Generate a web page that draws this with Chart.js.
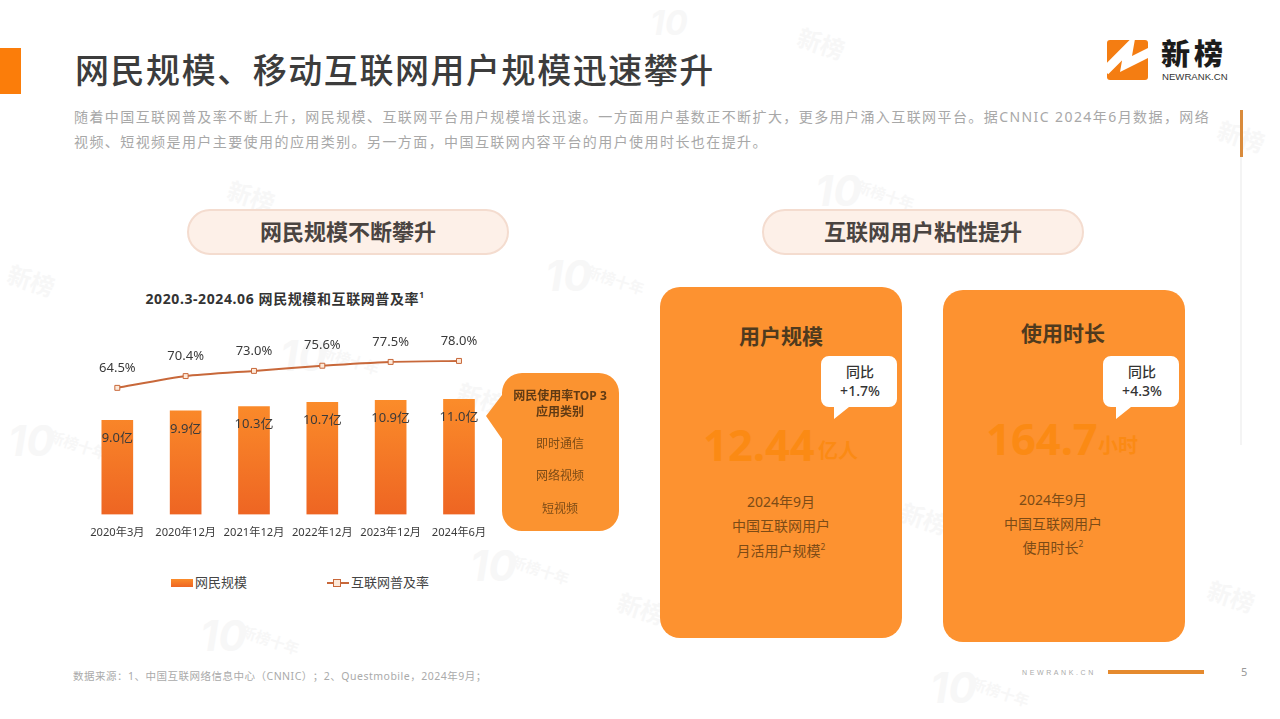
<!DOCTYPE html>
<html lang="zh-CN">
<head>
<meta charset="utf-8">
<title>网民规模、移动互联网用户规模迅速攀升</title>
<script src="https://cdn.jsdelivr.net/npm/chart.js@4"></script>
<style>
  html, body { margin: 0; padding: 0; background: #fff; }
  body { width: 1280px; height: 719px; position: relative; overflow: hidden; text-spacing-trim: space-all;
         font-family: "Noto Sans", "Noto Sans CJK SC", sans-serif; color: #333; }
  .abs { position: absolute; white-space: nowrap; line-height: 1; }
  .mid { transform: translate(-50%, -50%); text-align: center; }
  .vmid { transform: translateY(-50%); }
  .pill { position: absolute; top: 209px; width: 318px; height: 42px; border-radius: 23px;
          background: #fdf0e8; border: 2px solid #f4dccf; }
  .card { position: absolute; width: 242px; background: #fd9230; border-radius: 20px; }
  .wm { position: absolute; color: #f7f7f7; white-space: nowrap; line-height: 1; }
  .wm.ten { font: italic 700 42px "Inter", sans-serif; }
  .wm.sm { font-size: 15px; font-weight: 700; transform: rotate(18deg); transform-origin: left top; }
  .big { color: #fb8a14; font-weight: 700; }
  .desc { color: #7c4b16; font-size: 14px; }
  .bubble { color: #333; font-size: 14px; font-weight: 500; }
  sup { font-size: 0.6em; line-height: 0; }
  #chartBox { position: absolute; left: 60px; top: 330px; width: 450px; height: 215px; }
</style>
</head>
<body>
<div id="marks"></div>

<!-- header -->
<div class="abs" style="left:0;top:48px;width:21px;height:46px;background:#fb7d0a"></div>
<div class="abs vmid" style="left:75px;top:70px;font-size:34px;font-weight:500;letter-spacing:1.55px;color:#3c3c3c">网民规模、移动互联网用户规模迅速攀升</div>
<div class="abs vmid" style="left:74px;top:117px;font-size:14px;letter-spacing:1.42px;color:#a8a8a8">随着中国互联网普及率不断上升，网民规模、互联网平台用户规模增长迅速。一方面用户基数正不断扩大，更多用户涌入互联网平台。据CNNIC 2024年6月数据，网络</div>
<div class="abs vmid" style="left:74px;top:142px;font-size:14px;letter-spacing:1.42px;color:#a8a8a8">视频、短视频是用户主要使用的应用类别。另一方面，中国互联网内容平台的用户使用时长也在提升。</div>

<!-- logo -->
<svg class="abs" style="left:1107px;top:40px" width="41" height="40" viewBox="0 0 41 40">
  <rect width="41" height="40" rx="3" fill="#f47d12"/>
  <polyline points="-2,31 22,7 19,24 43,12" fill="none" stroke="#fff" stroke-width="9" stroke-linejoin="miter"/>
</svg>
<div class="abs" style="left:1161px;top:39px;font-size:29px;font-weight:900;letter-spacing:4px;color:#1c1c1c">新榜</div>
<div class="abs" style="left:1162px;top:71px;font:9.6px 'Liberation Sans',sans-serif;color:#333">NEWRANK.CN</div>

<!-- right rule -->
<div class="abs" style="left:1240px;top:157px;width:2px;height:288px;background:#f4f4f4"></div>
<div class="abs" style="left:1239.5px;top:110px;width:3px;height:47px;background:#d98b3c"></div>

<!-- section pills -->
<div class="pill" style="left:187px"></div>
<div class="abs mid" style="left:348px;top:231px;font-size:22px;font-weight:700;color:#4a4441">网民规模不断攀升</div>
<div class="pill" style="left:762px"></div>
<div class="abs mid" style="left:923px;top:231px;font-size:22px;font-weight:700;color:#4a4441">互联网用户粘性提升</div>

<!-- left chart -->
<div class="abs mid" style="left:285px;top:299px;font-size:14px;font-weight:700;letter-spacing:0.6px;color:#333">2020.3-2024.06 网民规模和互联网普及率<sup>1</sup></div>
<div id="chartBox"><canvas id="mainChart"></canvas></div>

<!-- legend -->
<div class="abs" id="legBar" style="left:171px;top:579px;width:22px;height:8px"></div>
<div class="abs vmid" style="left:195px;top:582px;font-size:13px;color:#444">网民规模</div>
<div class="abs" style="left:327px;top:582px;width:22px;height:2px;background:#c8683a"></div>
<div class="abs" style="left:333px;top:579px;width:6px;height:6px;background:#fde9d9;border:1px solid #c8683a"></div>
<div class="abs vmid" style="left:351px;top:582px;font-size:13px;color:#444">互联网普及率</div>

<!-- callout -->
<svg class="abs" style="left:480px;top:365px" width="145" height="172">
  <path d="M42 8 H119 A20 20 0 0 1 139 28 V146 A20 20 0 0 1 119 166 H42 A20 20 0 0 1 22 146 V74 L6 51 L22 30 V28 A20 20 0 0 1 42 8 Z" fill="#fb9330"/>
</svg>
<div class="abs mid" style="left:560px;top:396px;font-size:12px;font-weight:700;color:#5f3a14">网民使用率TOP 3</div>
<div class="abs mid" style="left:560px;top:412px;font-size:12px;font-weight:700;color:#5f3a14">应用类别</div>
<div class="abs mid" style="left:560px;top:444px;font-size:12px;color:#7c4b16">即时通信</div>
<div class="abs mid" style="left:560px;top:476px;font-size:12px;color:#7c4b16">网络视频</div>
<div class="abs mid" style="left:560px;top:509px;font-size:12px;color:#7c4b16">短视频</div>

<!-- left card -->
<div class="card" style="left:660px;top:287px;height:351px"></div>
<div class="abs mid" style="left:781px;top:336px;font-size:21px;font-weight:700;color:#4f3a1e">用户规模</div>
<svg class="abs" style="left:821px;top:356px" width="76" height="64">
  <path d="M8 0 H68 A8 8 0 0 1 76 8 V43 A8 8 0 0 1 68 51 H28 L13 63 V51 H8 A8 8 0 0 1 0 43 V8 A8 8 0 0 1 8 0 Z" fill="#fff"/>
</svg>
<div class="abs mid bubble" style="left:860px;top:372px">同比</div>
<div class="abs mid bubble" style="left:860px;top:391px">+1.7%</div>
<div class="abs vmid big" style="left:703px;top:445px;font-size:43.5px">12.44</div>
<div class="abs vmid big" style="left:818px;top:451px;font-size:20px">亿人</div>
<div class="abs mid desc" style="left:781px;top:502px">2024年9月</div>
<div class="abs mid desc" style="left:781px;top:526px">中国互联网用户</div>
<div class="abs mid desc" style="left:781px;top:551px">月活用户规模<sup>2</sup></div>

<!-- right card -->
<div class="card" style="left:943px;top:290px;height:352px"></div>
<div class="abs mid" style="left:1063px;top:333px;font-size:21px;font-weight:700;color:#4f3a1e">使用时长</div>
<svg class="abs" style="left:1103px;top:356px" width="76" height="64">
  <path d="M8 0 H68 A8 8 0 0 1 76 8 V43 A8 8 0 0 1 68 51 H28 L13 63 V51 H8 A8 8 0 0 1 0 43 V8 A8 8 0 0 1 8 0 Z" fill="#fff"/>
</svg>
<div class="abs mid bubble" style="left:1142px;top:372px">同比</div>
<div class="abs mid bubble" style="left:1142px;top:391px">+4.3%</div>
<div class="abs vmid big" style="left:986px;top:439px;font-size:43.5px">164.7</div>
<div class="abs vmid big" style="left:1098px;top:446px;font-size:20px">小时</div>
<div class="abs mid desc" style="left:1053px;top:500px">2024年9月</div>
<div class="abs mid desc" style="left:1053px;top:524px">中国互联网用户</div>
<div class="abs mid desc" style="left:1053px;top:548px">使用时长<sup>2</sup></div>

<!-- footer -->
<div class="abs vmid" style="left:73px;top:676px;font-size:10.5px;letter-spacing:0.5px;color:#aaa">数据来源：1、中国互联网络信息中心（CNNIC）；2、Questmobile，2024年9月；</div>
<div class="abs vmid" style="left:1022px;top:672px;font:7px 'Liberation Sans',sans-serif;letter-spacing:2.6px;color:#aaa">NEWRANK.CN</div>
<div class="abs" style="left:1108px;top:670px;width:96px;height:4px;background:#e58a2e"></div>
<div class="abs vmid" style="left:1241px;top:671px;font-size:11px;color:#999">5</div>

<script>
// ---- chart data ----
const periods = ["2020年3月", "2020年12月", "2021年12月", "2022年12月", "2023年12月", "2024年6月"];
const netizens = [9.0, 9.9, 10.3, 10.7, 10.9, 11.0];
const penetration = [64.5, 70.4, 73.0, 75.6, 77.5, 78.0];

// faint background watermarks
const tenMarks = [[815, 165], [545, 250], [200, 610], [470, 540], [8, 415], [930, 662], [280, 330]];
const newMarks = [[232, 178], [802, 25], [622, 590], [1212, 578], [1222, 118], [462, 380], [12, 262], [905, 500]];
const marks = document.getElementById("marks");
marks.insertAdjacentHTML("beforeend", '<span class="wm ten" style="left:650px;top:2px;font-size:34px">10</span>');
tenMarks.forEach(([x, y]) => {
  marks.insertAdjacentHTML("beforeend",
    `<span class="wm ten" style="left:${x}px;top:${y}px">10</span>` +
    `<span class="wm sm" style="left:${x + 44}px;top:${y + 14}px">新榜十年</span>`);
});
newMarks.forEach(([x, y]) => {
  marks.insertAdjacentHTML("beforeend",
    `<span class="wm sm" style="left:${x}px;top:${y}px;font-size:24px">新榜</span>`);
});

document.getElementById("legBar").style.background = "linear-gradient(#fb8c2a, #ee6523)";

// value labels above the line and inside the bars
const valueLabels = {
  id: "valueLabels",
  afterDatasetsDraw(chart) {
    const ctx = chart.ctx;
    ctx.save();
    ctx.font = '13px "Noto Sans", "Noto Sans CJK SC"';
    ctx.fillStyle = "#3a3a3a";
    ctx.textAlign = "center";
    ctx.textBaseline = "middle";
    chart.getDatasetMeta(0).data.forEach((bar, i) => {
      ctx.fillText(netizens[i].toFixed(1) + "亿", bar.x, bar.y + 18);
    });
    chart.getDatasetMeta(1).data.forEach((pt, i) => {
      ctx.fillText(penetration[i].toFixed(1) + "%", pt.x, pt.y - 20);
    });
    ctx.restore();
  },
};

new Chart(document.getElementById("mainChart"), {
  data: {
    labels: periods,
    datasets: [
      {
        type: "bar",
        label: "网民规模",
        data: netizens,
        yAxisID: "yBar",
        barThickness: 31,
        order: 2,
        backgroundColor: (c) => {
          const area = c.chart.chartArea;
          if (!area) return "#f47a28";
          const g = c.chart.ctx.createLinearGradient(0, area.bottom - 115, 0, area.bottom);
          g.addColorStop(0, "#fb8c2a");
          g.addColorStop(1, "#ee6523");
          return g;
        },
      },
      {
        type: "line",
        label: "互联网普及率",
        data: penetration,
        yAxisID: "yLine",
        order: 1,
        borderColor: "#c8683a",
        borderWidth: 2,
        tension: 0.2,
        pointStyle: "rect",
        pointRadius: 3.5,
        pointBorderWidth: 1,
        pointBackgroundColor: "#fde9d9",
        pointBorderColor: "#c8683a",
      },
    ],
  },
  options: {
    responsive: true,
    maintainAspectRatio: false,
    animation: false,
    layout: { padding: { left: 23.15, right: 16.85, top: 0, bottom: 0 } },
    plugins: { legend: { display: false }, tooltip: { enabled: false } },
    scales: {
      x: {
        grid: { display: false },
        border: { display: false },
        afterFit: (scale) => { scale.height = 30.5; },
        ticks: {
          color: "#3a3a3a",
          padding: 4,
          maxRotation: 0,
          autoSkip: false,
          font: { family: '"Noto Sans", "Noto Sans CJK SC"', size: 11.2 },
        },
      },
      yBar: { display: false, min: 0, max: 17.14 },
      yLine: { display: false, min: 1, max: 91 },
    },
  },
  plugins: [valueLabels],
});
</script>
</body>
</html>
